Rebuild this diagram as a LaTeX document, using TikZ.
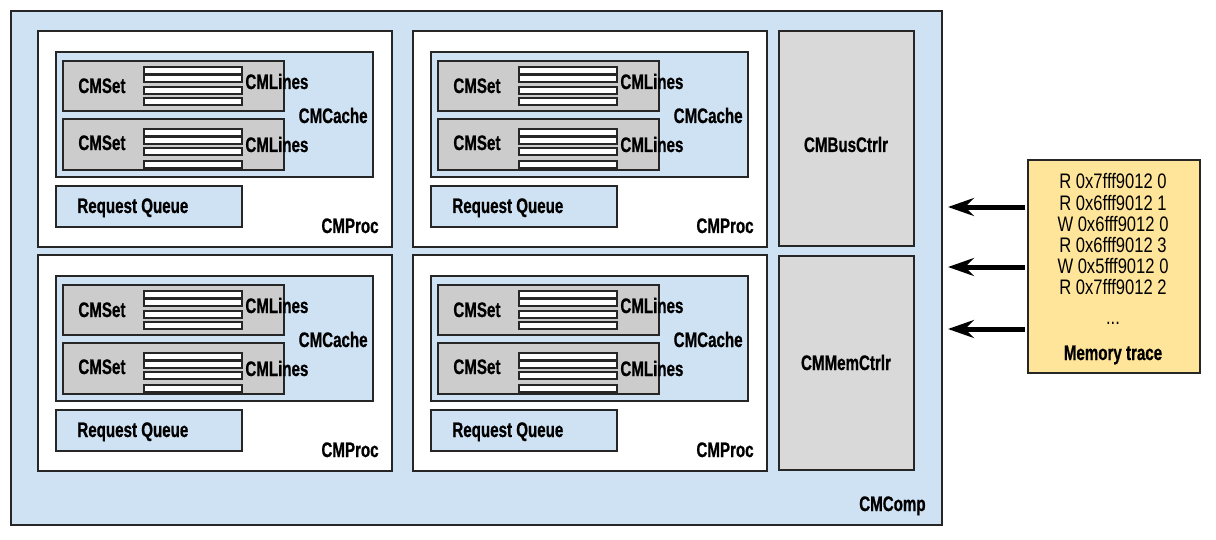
\documentclass[tikz,border=0pt]{standalone}
\usepackage{fontspec}
\setmainfont{Liberation Sans}[FakeStretch=0.72, BoldFeatures={FakeBold=0.8}]
\newfontfamily\tracefont{Liberation Sans}[FakeStretch=0.79]
\usetikzlibrary{arrows.meta,fit}

\definecolor{compblue}{HTML}{CFE2F3}
\definecolor{setgray}{HTML}{CCCCCC}
\definecolor{ctrlgray}{HTML}{D9D9D9}
\definecolor{traceyellow}{HTML}{FFE599}
\definecolor{edgegray}{HTML}{262626}

\tikzset{
  box/.style={draw=edgegray, line width=1pt, inner sep=0pt},
  bar/.style={draw=edgegray, line width=0.9pt, fill=white},
  lbl/.style={font=\fontsize{10.5}{11}\selectfont\bfseries, inner sep=0pt, anchor=base west},
  tracetxt/.style={font=\tracefont\fontsize{10.5}{11}\selectfont, inner sep=0pt, anchor=base},
  feed/.style={line width=2.5pt, -{Stealth[length=13pt,width=9pt,inset=4.5pt]}, shorten <=1pt}
}

\begin{document}
\begin{tikzpicture}[x=0.5pt,y=-0.5pt]
  \useasboundingbox (0,0) rectangle (1216,540);

  % the component
  \node[box, fill=compblue, fit={(11,11) (942,525)}] (comp) {};
  \node[lbl, anchor=base east] (complbl) at (926,511) {CMComp};

  % four processors, each with a cache of two sets
  \foreach \dx/\dy/\p in {0/0/1, 375/0/2, 0/224/3, 375/224/4} {
    \node[box, fill=white, fit={({38+\dx},{31+\dy}) ({392+\dx},{247+\dy})}] (proc\p) {};
    \node[box, fill=compblue, fit={({56+\dx},{52+\dy}) ({373+\dx},{177+\dy})}] (cache\p) {};
    \node[box, fill=setgray, fit={({63+\dx},{61+\dy}) ({284+\dx},{111+\dy})}] (seta\p) {};
    \node[box, fill=setgray, fit={({63+\dx},{119+\dy}) ({284+\dx},{170+\dy})}] (setb\p) {};
    \foreach \t in {67,75,87,98}
      \draw[bar] ({144+\dx},{\t+\dy}) rectangle ({242+\dx},{\t+7+\dy});
    \foreach \t in {129,137,148,161}
      \draw[bar] ({144+\dx},{\t+\dy}) rectangle ({242+\dx},{\t+7+\dy});
    \node[lbl] (setalbl\p) at ({78+\dx},{93+\dy}) {CMSet};
    \node[lbl] (setblbl\p) at ({78+\dx},{150+\dy}) {CMSet};
    \node[lbl] (linesa\p) at ({245+\dx},{89+\dy}) {CMLines};
    \node[lbl] (linesb\p) at ({245+\dx},{152+\dy}) {CMLines};
    \node[lbl, anchor=base east] (cachelbl\p) at ({368+\dx},{123+\dy}) {CMCache};
    \node[box, fill=compblue, fit={({56+\dx},{186+\dy}) ({242+\dx},{227+\dy})}] (queue\p) {};
    \node[lbl] (queuelbl\p) at ({77+\dx},{213+\dy}) {Request Queue};
    \node[lbl, anchor=base east] (proclbl\p) at ({379+\dx},{233+\dy}) {CMProc};
  }

  % controllers
  \node[box, fill=ctrlgray, fit={(779,31) (914,246)}] (bus) {};
  \node[lbl, anchor=base] (buslbl) at (846,152) {CMBusCtrlr};
  \node[box, fill=ctrlgray, fit={(779,256) (914,470)}] (mem) {};
  \node[lbl, anchor=base] (memlbl) at (846,370) {CMMemCtrlr};

  % memory trace
  \node[box, fill=traceyellow, fit={(1028,160) (1200,373)}] (trace) {};
  \foreach \l [count=\i] in {R 0x7fff9012 0, R 0x6fff9012 1, W 0x6fff9012 0,
                             R 0x6fff9012 3, W 0x5fff9012 0, R 0x7fff9012 2}
    \node[tracetxt] (line\i) at (1113,{168+21*\i}) {\l};
  \node[tracetxt] (dots) at (1113,324) {...};
  \node[lbl, anchor=base] (tracelbl) at (1113,360) {Memory trace};

  \coordinate (in1) at (948,207);
  \coordinate (in2) at (948,267);
  \coordinate (in3) at (948,329);
  \foreach \i in {1,2,3}
    \draw[feed] (trace.west |- in\i) -- (in\i);

\end{tikzpicture}
\end{document}
